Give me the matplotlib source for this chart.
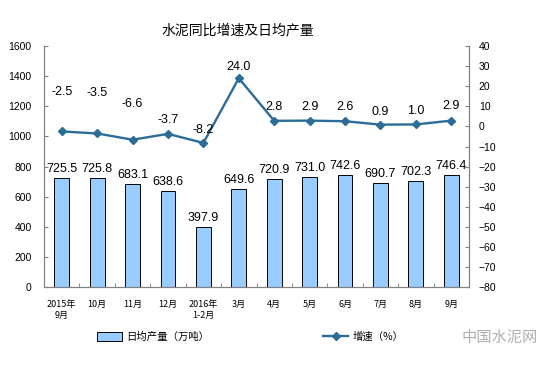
import matplotlib
matplotlib.use("Agg")
import matplotlib.pyplot as plt
from matplotlib.lines import Line2D
from matplotlib.patches import Patch
import numpy as np

plt.rcParams["font.family"] = ["Noto Sans CJK SC", "DejaVu Sans"]

months = ["2015年\n9月", "10月", "11月", "12月", "2016年\n1-2月", "3月",
          "4月", "5月", "6月", "7月", "8月", "9月"]
output = [725.5, 725.8, 683.1, 638.6, 397.9, 649.6,
          720.9, 731.0, 742.6, 690.7, 702.3, 746.4]
growth = [-2.5, -3.5, -6.6, -3.7, -8.2, 24.0,
          2.8, 2.9, 2.6, 0.9, 1.0, 2.9]

# label lift above line points, pixels
growth_label_dy = [39, 40, 36, 14, 13, 11, 14, 14, 14, 13, 13, 15]

bar_color = "#99CCFF"
line_color = "#2C6C98"
spine_color = "#808080"
num_font = "Liberation Sans"

fig = plt.figure(figsize=(5.46, 3.69), dpi=100)
ax = fig.add_axes([0.0806, 0.222, 0.7784, 0.653])

x = np.arange(len(months))
ax.bar(x, output, width=0.42, color=bar_color, edgecolor="black", linewidth=0.7, zorder=2)
for xi, v in zip(x, output):
    ax.annotate(f"{v:.1f}", (xi, v), xytext=(0, 3), textcoords="offset pixels",
                ha="center", va="bottom", fontsize=9, family=num_font)

ax.set_xlim(-0.5, len(months) - 0.5)
ax.set_ylim(0, 1600)
ax.set_yticks(np.arange(0, 1601, 200))
ax.set_xticks(x)
ax.set_xticklabels(months, fontsize=6.5, linespacing=1.3)
ax.set_xticks(np.arange(-0.5, len(months), 1), minor=True)
ax.tick_params(axis="x", which="major", length=0, pad=9)
ax.tick_params(axis="x", which="minor", direction="in", length=3, color=spine_color)
ax.tick_params(axis="y", direction="in", length=3, color=spine_color, labelsize=7.5, pad=9)
for lab in ax.get_yticklabels():
    lab.set_family(num_font)

ax2 = ax.twinx()
ax2.plot(x, growth, color=line_color, linewidth=1.7, marker="D", markersize=4, zorder=3)
for xi, v, dy in zip(x, growth, growth_label_dy):
    ax2.annotate(f"{v:.1f}", (xi, v), xytext=(0, dy), textcoords="offset pixels",
                 ha="center", va="center", fontsize=9, family=num_font)
ax2.set_ylim(-80, 40)
ax2.set_yticks(np.arange(-80, 41, 10))
ax2.tick_params(axis="y", direction="in", length=3, color=spine_color, labelsize=7.5, pad=7)
for lab in ax2.get_yticklabels():
    lab.set_family(num_font)

for a in (ax, ax2):
    a.spines["top"].set_visible(False)
    for s in ("left", "right", "bottom"):
        a.spines[s].set_color(spine_color)
        a.spines[s].set_linewidth(0.8)

fig.text(0.436, 0.919, "水泥同比增速及日均产量", ha="center", va="center", fontsize=10)

bar_handle = Patch(facecolor=bar_color, edgecolor="black", linewidth=0.7)
line_handle = Line2D([], [], color=line_color, linewidth=1.7, marker="D", markersize=4)
fig.legend([bar_handle], ["日均产量（万吨）"], loc="center left",
           bbox_to_anchor=(0.16, 0.087), frameon=False, fontsize=7.5,
           handlelength=2.4, handleheight=0.9, handletextpad=0.4)
fig.legend([line_handle], ["增速（%）"], loc="center left",
           bbox_to_anchor=(0.575, 0.087), frameon=False, fontsize=7.5,
           handlelength=2.4, handletextpad=0.4)

fig.text(0.915, 0.087, "中国水泥网", ha="center", va="center", fontsize=11, color="#B0B0B0")

fig.savefig("out.png", dpi=100)
